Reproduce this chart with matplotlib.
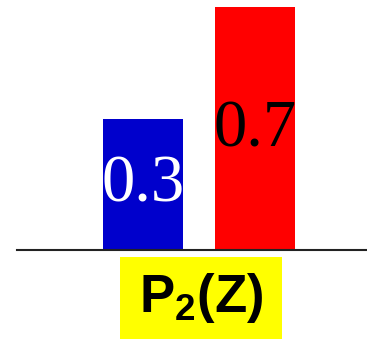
import matplotlib
matplotlib.use("Agg")
import matplotlib.pyplot as plt
from matplotlib.patches import Rectangle

categories = ["Z=0", "Z=1"]
values = [0.3, 0.7]
bar_colors = ["#0000CC", "#FF0000"]
value_text_colors = ["white", "black"]
value_labels = ["0.3", "0.7"]
label_heights = [0.148, 0.275]
axis_label = "P$_2$(Z)"

plt.rcParams["mathtext.fontset"] = "custom"
plt.rcParams["mathtext.rm"] = "Liberation Sans:bold"
plt.rcParams["mathtext.bf"] = "Liberation Sans:bold"

W, H = 367, 339
fig = plt.figure(figsize=(W / 100, H / 100), dpi=100)
ax = fig.add_axes([17 / W, (H - 249.5) / H, (W - 17) / W, 242.5 / H])

xs = list(range(len(categories)))
ax.bar(xs, values, width=80 / 112, color=bar_colors, zorder=2)
for x, lab, y, c in zip(xs, value_labels, label_heights, value_text_colors):
    ax.text(x, y, lab, ha="center", va="center", color=c,
            fontsize=48, family="Liberation Serif", zorder=3)

ax.set_xlim(-1.125, 2.0)
ax.set_ylim(0, 0.557)
for s in ["top", "right", "left"]:
    ax.spines[s].set_visible(False)
ax.spines["bottom"].set_linewidth(1.5)
ax.spines["bottom"].set_color("#222222")
ax.spines["bottom"].set_zorder(4)
ax.set_xticks([])
ax.set_yticks([])

fig.patches.append(Rectangle((120 / W, 0), 162 / W, 82 / H,
                             transform=fig.transFigure, facecolor="#FFFF00",
                             edgecolor="none"))
fig.text(201 / W, 41 / H, axis_label, ha="center", va="center",
         fontsize=38, fontweight="bold", family="Liberation Sans")

fig.savefig("out.png", dpi=100)
